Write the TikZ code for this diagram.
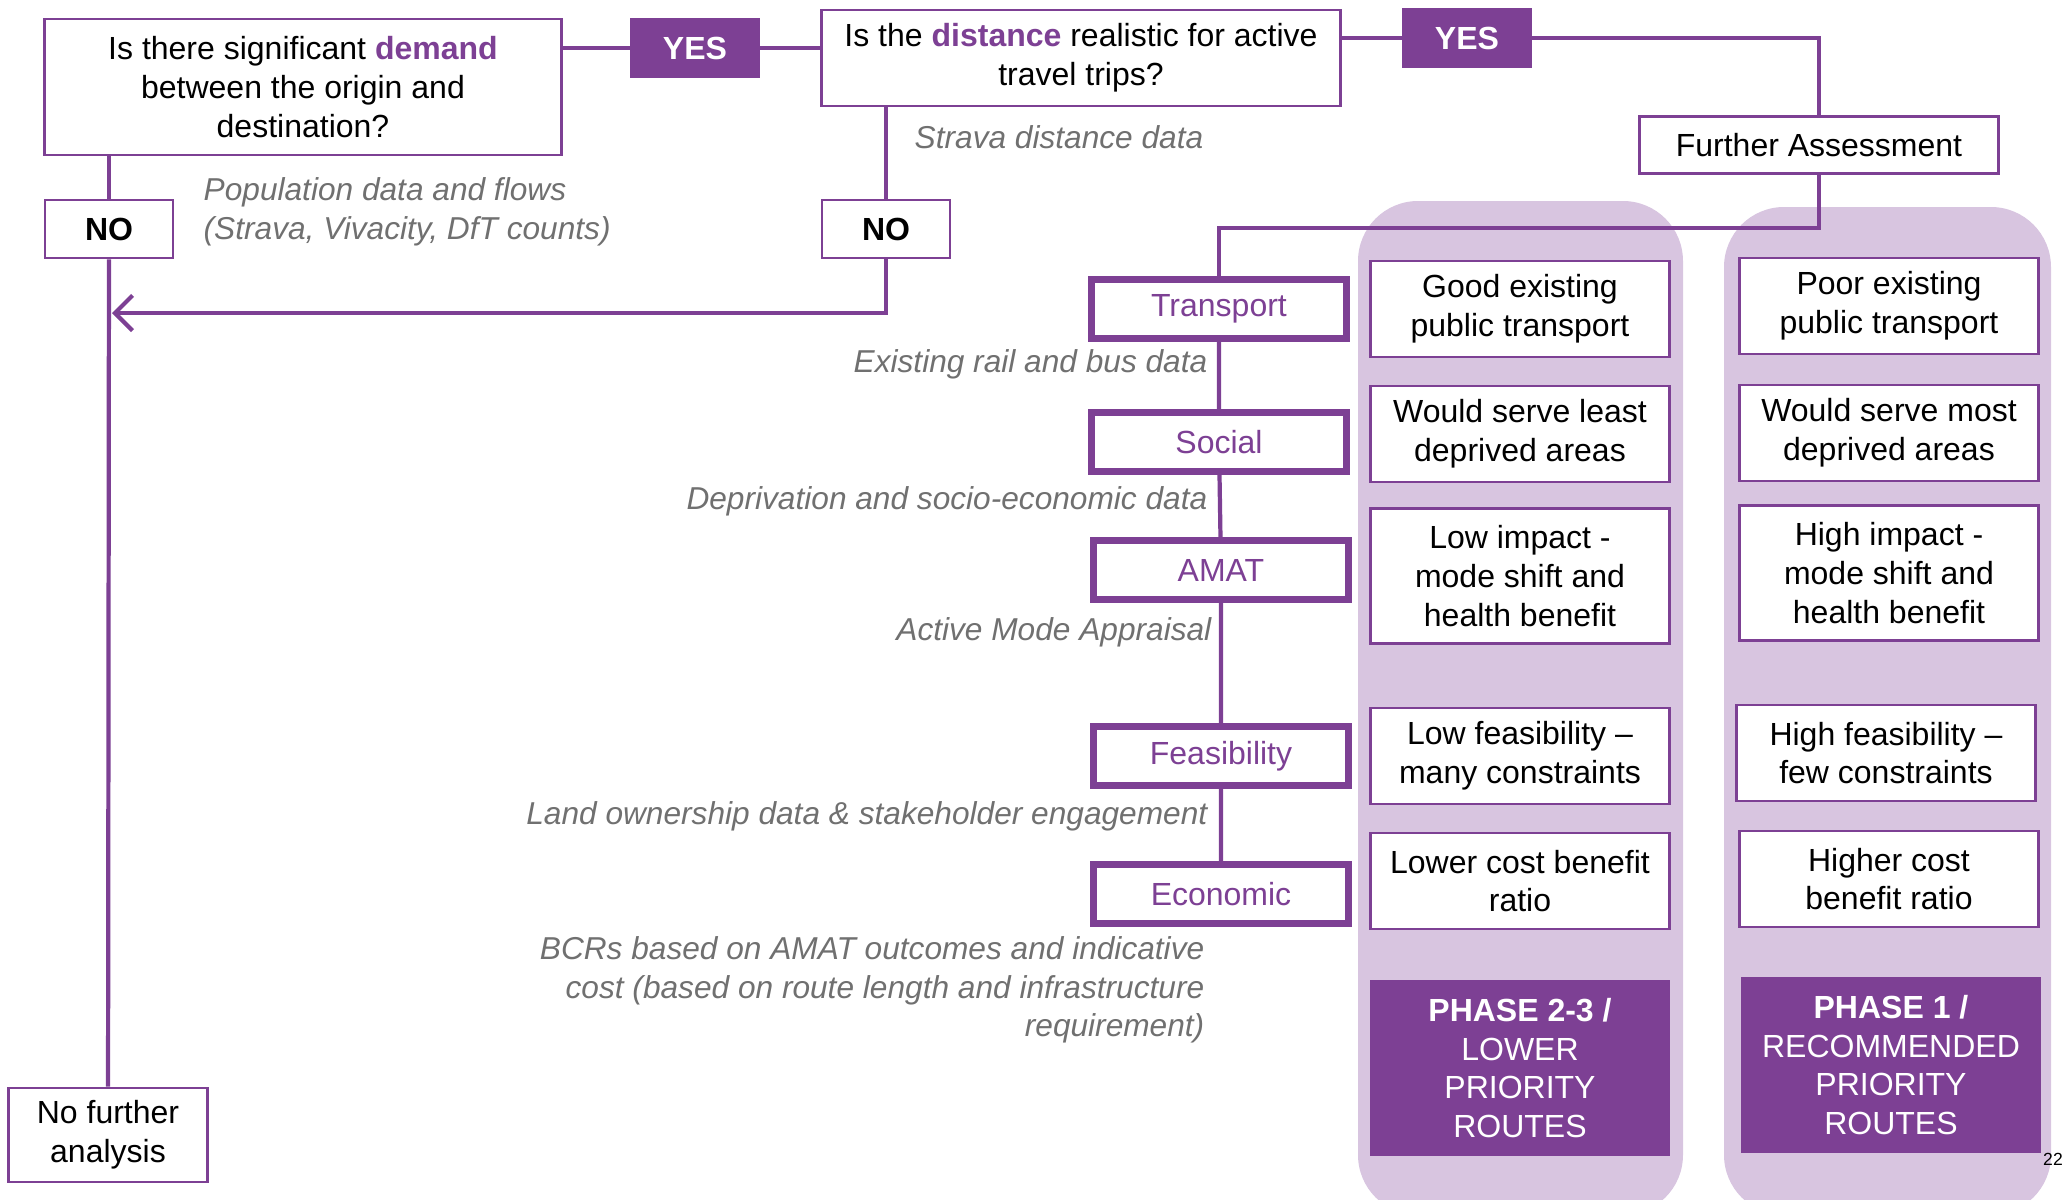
\documentclass[tikz,border=0pt]{standalone}
\usepackage{fontspec}
\setmainfont{Liberation Sans}
\usetikzlibrary{arrows.meta}
\definecolor{mainpurple}{RGB}{125,64,148}
\definecolor{lightpurple}{RGB}{216,197,224}
\definecolor{notegray}{RGB}{112,112,112}
\tikzset{
  question/.style={draw=mainpurple,line width=0.8pt,fill=white,align=center,inner sep=0pt},
  answer/.style={fill=mainpurple,text=white,font=\bfseries,inner sep=0pt,minimum width=1.29cm,minimum height=0.6cm},
  nobox/.style={draw=mainpurple,line width=0.8pt,fill=white,font=\bfseries,inner sep=0pt,minimum width=1.28cm,minimum height=0.58cm},
  criterion/.style={draw=mainpurple,line width=1.9pt,fill=white,text=mainpurple,inner sep=0pt,minimum width=2.55cm,minimum height=0.59cm},
  outcome/.style={draw=mainpurple,line width=0.8pt,fill=white,align=center,inner sep=0pt,minimum width=2.99cm,minimum height=0.96cm},
  phase/.style={fill=mainpurple,text=white,align=center,inner sep=0pt,minimum width=2.99cm,minimum height=1.75cm},
  note/.style={text=notegray,font=\fontsize{9}{11}\selectfont\itshape,inner sep=0pt},
  link/.style={draw=mainpurple,line width=1.2pt},
}
\begin{document}
\fontsize{9.1}{11}\selectfont
\begin{tikzpicture}[x=0.01cm,y=-0.01cm]
\useasboundingbox (0,0) rectangle (2065,1200);
% background columns
\fill[lightpurple,rounded corners=0.6cm] (1358,201) rectangle (1683,1215);
\fill[lightpurple,rounded corners=0.6cm] (1724,207) rectangle (2051,1215);

% questions and answers
\node[question,minimum width=5.17cm,minimum height=1.36cm] (demand) at (303,87) {Is there significant \textcolor{mainpurple}{\textbf{demand}}\\between the origin and\\destination?};
\node[answer] (yesdemand) at (695,48) {YES};
\node[question,minimum width=5.19cm,minimum height=0.96cm] (distance) at (1081,58) {Is the \textcolor{mainpurple}{\textbf{distance}} realistic for active\\travel trips?};
\node[answer] (yesdistance) at (1467,38) {YES};
\node[question,minimum width=3.58cm,minimum height=0.57cm] (further) at (1819,145) {Further Assessment};
\node[nobox] (nodemand) at (109,229) {NO};
\node[nobox] (nodistance) at (886,229) {NO};
\node[question,minimum width=1.99cm,minimum height=0.94cm] (nofurther) at (108,1135) {No further\\analysis};

% data sources
\node[note,anchor=west,align=left] (popnote) at (203,212) {Population data and flows\\(Strava, Vivacity, DfT counts)};
\node[note,anchor=west] (stravanote) at (914,137) {Strava distance data};
\node[note,anchor=east] (railnote) at (1208,364) {Existing rail and bus data};
\node[note,anchor=east] (depnote) at (1208,501) {Deprivation and socio-economic data};
\node[note,anchor=east] (amatnote) at (1212,632) {Active Mode Appraisal};
\node[note,anchor=east] (landnote) at (1208,816) {Land ownership data \& stakeholder engagement};
\node[note,anchor=east,align=right] (bcrnote) at (1205,990) {BCRs based on AMAT outcomes and indicative\\cost (based on route length and infrastructure\\requirement)};

% criteria
\node[criterion] (transport) at (1219,309) {Transport};
\node[criterion] (social) at (1219,442) {Social};
\node[criterion] (amat) at (1221,570) {AMAT};
\node[criterion] (feasibility) at (1221,756) {Feasibility};
\node[criterion] (economic) at (1221,894) {Economic};

% lower priority column
\node[outcome] (goodpt) at (1520,309) {Good existing\\public transport};
\node[outcome] (leastdep) at (1520,434) {Would serve least\\deprived areas};
\node[outcome,minimum height=1.35cm] (lowimpact) at (1520,576) {Low impact -\\mode shift and\\health benefit};
\node[outcome] (lowfeas) at (1520,756) {Low feasibility --\\many constraints};
\node[outcome] (lowcost) at (1520,881) {Lower cost benefit\\ratio};
\node[phase] (phaselow) at (1520,1068) {\textbf{PHASE 2-3 /}\\LOWER\\PRIORITY\\ROUTES};

% recommended column
\node[outcome] (poorpt) at (1889,306) {Poor existing\\public transport};
\node[outcome] (mostdep) at (1889,433) {Would serve most\\deprived areas};
\node[outcome,minimum height=1.35cm] (highimpact) at (1889,573) {High impact -\\mode shift and\\health benefit};
\node[outcome] (highfeas) at (1886,753) {High feasibility --\\few constraints};
\node[outcome] (highcost) at (1889,879) {Higher cost\\benefit ratio};
\node[phase] (phasehigh) at (1891,1065) {\textbf{PHASE 1 /}\\RECOMMENDED\\PRIORITY\\ROUTES};

\node[font=\fontsize{5}{6}\selectfont,inner sep=0pt] (pagenum) at (2053,1159) {22};

% connectors
\coordinate (merge) at (112,313);
\coordinate (split) at (1819,228);
\draw[link] (yesdemand.west -| demand.east) -- (yesdemand);
\draw[link] (yesdemand) -- (yesdemand -| distance.west);
\draw[link] (yesdistance -| distance.east) -- (yesdistance);
\draw[link] (yesdistance) -| (further);
\draw[link] (further) -- (split) -| (transport);
\draw[link] (nodemand.north |- demand.south) -- (nodemand);
\draw[link] (nodemand) -- (nofurther);
\draw[link] (nodistance.north |- distance.south) -- (nodistance);
\draw[link,-{Straight Barb[length=5pt,width=10pt]}] (nodistance) |- (merge);
\draw[link] (transport) -- (social) -- (amat) -- (feasibility) -- (economic);
\end{tikzpicture}
\end{document}
